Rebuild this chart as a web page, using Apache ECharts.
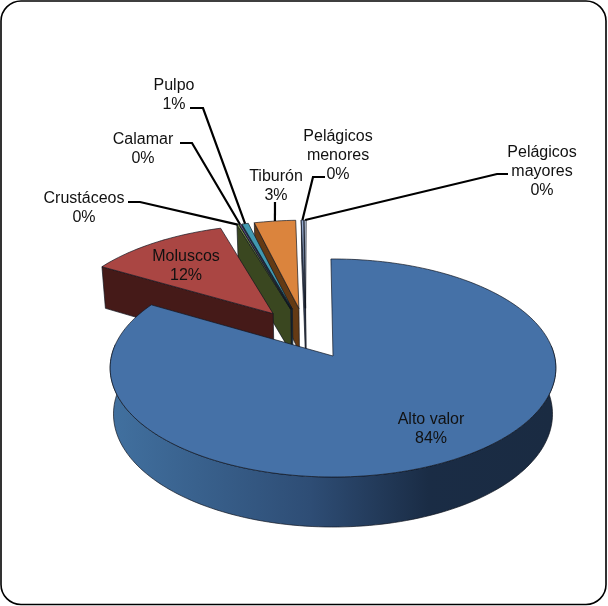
<!DOCTYPE html>
<html>
<head>
<meta charset="utf-8">
<style>html,body{margin:0;padding:0;background:#fff}#c{width:608px;height:606px}</style>
<script src="https://cdn.jsdelivr.net/npm/echarts@6/dist/echarts.min.js"></script>
</head>
<body>
<div id="c"></div>
<script>
// ---- data ----
const categories = ['Alto valor','Moluscos','Crustáceos','Calamar','Pulpo','Tiburón','Pelágicos\nmenores','Pelágicos\nmayores'];
const values = [83.52, 11.78, 0.15, 0.15, 0.55, 3.48, 0.2, 0.17];

// ---- styles ----
const topColors  = ['#4571A7','#AA4643','#89A54E','#71588F','#4198AF','#DB843D','#93A9CF','#C6D3E8'];
const wallColors = ['#2C4A70','#451A18','#3A4720','#352845','#1C4A57','#643A14','#45546F','#6F7D94'];
const blueWallStops = [[0,'#41709F'],[0.45,'#2E4D75'],[0.72,'#1A2C45'],[1,'#1A2B42']];

// ---- 3D pie projection settings ----
const VIEW = {x0:333, y0:356, r:221.5, q:107.7, k:0.11, explode:0.25, startAngle:-0.6, shrink:0.985, h0:45.6, hv:4.4};

// ---- label layout: label centre, then leader start and elbow ----
const labelLayout = [
  {x:431,y:429.5},
  {x:186,y:266.5},
  {x:84, y:208.5, line:[[128,202],[140,202]]},
  {x:143,y:149.5, line:[[180,143],[192,143]]},
  {x:174,y:95.5,  line:[[190,108],[203,108]]},
  {x:276,y:186.5, line:[[275,202]]},
  {x:338,y:155.5, line:[[325,177],[313,177]]},
  {x:542,y:171.5, line:[[508,174],[497,174]]}
];

// ---- geometry from values ----
const total = values.reduce((a,b)=>a+b,0);
const rad = a => a*Math.PI/180;
const dir = a => [Math.sin(rad(a)), Math.cos(rad(a))];
let cum = 0;
const spans = values.map(v=>{const s=cum; cum+=v/total*360; return [s+VIEW.startAngle, cum+VIEW.startAngle];});
const mid0 = dir((spans[0][0]+spans[0][1])/2);
const c0 = [-VIEW.explode*mid0[0], -VIEW.explode*mid0[1]];

function proj(u,v,low){
  const w = 1/(1+VIEW.k*v);
  let x = VIEW.x0 + VIEW.r*u*w, y = VIEW.y0 - VIEW.q*v*w;
  if(low){ x = VIEW.x0 + (x-VIEW.x0)*VIEW.shrink; y += VIEW.h0 - VIEW.hv*v; }
  return [x,y];
}
function sliceGeom(i){
  const [a,b] = spans[i];
  const m = dir((a+b)/2);
  const c = [c0[0]+VIEW.explode*m[0], c0[1]+VIEW.explode*m[1]];
  const n = Math.max(2, Math.ceil((b-a)/1.5));
  const rim = [], front = [];
  for(let j=0;j<=n;j++){
    const d = dir(a+(b-a)*j/n), p = [c[0]+d[0], c[1]+d[1]];
    rim.push(p);
    if(d[1] < 0.11) front.push(p);
  }
  return {c, rim, front, rimMid:[c[0]+m[0], c[1]+m[1]], startFaces:i>0 && Math.sin(rad(a))<0, endFaces:i>0 && Math.sin(rad(b))>0};
}

const drawOrder = [7,6,5,4,3,2,1,0];
const stroke = 'rgba(15,20,30,0.85)';

function renderItem(params, api){
  const i = api.value(0);
  const g = sliceGeom(i);
  const z = params.dataIndex*4+1;
  const kids = [];
  const poly = (pts,fill,dz)=>kids.push({type:'polygon',z2:z+dz,shape:{points:pts},
    style:{fill,stroke,lineWidth:0.8,lineJoin:'round'}});
  const rimT = g.rim.map(p=>proj(p[0],p[1],false));
  const rimB = g.rim.map(p=>proj(p[0],p[1],true));
  const cT = proj(g.c[0],g.c[1],false), cB = proj(g.c[0],g.c[1],true);
  const wall = i===0
    ? new echarts.graphic.LinearGradient(113,0,551,0,blueWallStops.map(s=>({offset:s[0],color:s[1]})),true)
    : wallColors[i];
  // cut faces that look towards the viewer
  if(g.startFaces) poly([cT,rimT[0],rimB[0],cB],wallColors[i],0);
  if(g.endFaces) poly([cT,rimT[rimT.length-1],rimB[rimB.length-1],cB],wallColors[i],0);
  // outer wall, front part only
  if(g.front.length>1){
    const fT = g.front.map(p=>proj(p[0],p[1],false));
    const fB = g.front.map(p=>proj(p[0],p[1],true));
    poly(fT.concat(fB.reverse()),wall,1);
  }
  // top face
  poly([cT].concat(rimT),topColors[i],2);
  return {type:'group',children:kids};
}

function renderLabels(params, api){
  const i = api.value(0);
  const g = sliceGeom(i);
  const L = labelLayout[i];
  const pct = Math.round(values[i]/total*100)+'%';
  const kids = [{type:'text',z2:200,style:{text:categories[i]+'\n'+pct,x:L.x,y:L.y,align:'center',verticalAlign:'middle',
    fill:'#111',font:'16px "Liberation Sans", Arial, sans-serif',lineHeight:19}}];
  if(L.line){
    const end = proj(g.rimMid[0],g.rimMid[1],false);
    kids.push({type:'polyline',z2:190,shape:{points:L.line.concat([end])},
      style:{fill:'none',stroke:'#000',lineWidth:2.2}});
  }
  return {type:'group',children:kids};
}

const chart = echarts.init(document.getElementById('c'),null,{renderer:'canvas'});
chart.setOption({
  animation:false,
  backgroundColor:'#fff',
  graphic:[{type:'rect',z:-1,shape:{x:1,y:1,width:605,height:603.5,r:20},
    style:{fill:'#fff',stroke:'#000',lineWidth:1.6},silent:true}],
  series:[
    {type:'custom',coordinateSystem:'none',silent:true,z:2,renderItem,
     data:drawOrder.map(i=>({name:categories[i],value:[i,values[i]]}))},
    {type:'custom',coordinateSystem:'none',silent:true,z:3,renderItem:renderLabels,
     data:categories.map((c,i)=>({name:c,value:[i,values[i]]}))}
  ]
});
</script>
</body>
</html>
